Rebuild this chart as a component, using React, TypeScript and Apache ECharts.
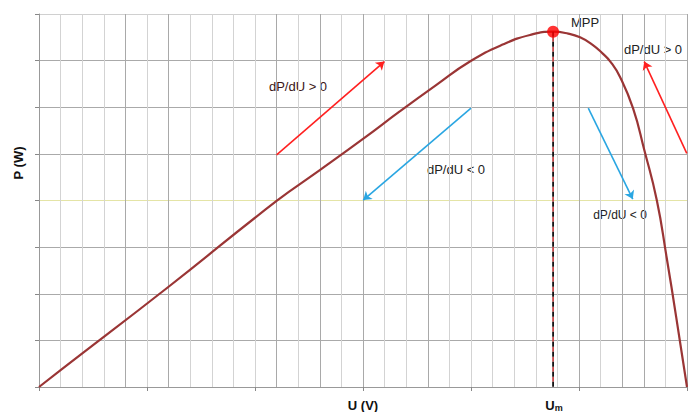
import React, { useEffect, useRef } from "react";
import * as echarts from "echarts";

// P-U curve of a PV panel (x: voltage in grid units 0..30, y: power in grid units 0..8)
const curveU = [0, 1, 6, 11, 13, 15, 16.7, 18.4, 19.95, 21.5, 22.73, 23.8, 24.5, 25.05, 25.6, 26.1, 26.45, 26.9, 27.5, 28.02, 28.6, 29.05, 29.5, 30];
const curveP = [0, 0.36, 2.15, 3.99, 4.65, 5.32, 5.91, 6.48, 6.98, 7.35, 7.55, 7.62, 7.58, 7.5, 7.35, 7.15, 6.98, 6.65, 5.98, 5.09, 4.01, 2.8, 1.5, 0];

const mppU = 23.8;
const mppP = 7.62;

// arrows: [u0, p0, u1, p1]
const redArrows = [
  [11, 4.98, 15.99, 6.98],
  [29.99, 5.01, 28.02, 6.98],
];
const blueArrows = [
  [20, 5.98, 15.01, 4.01],
  [25.43, 5.98, 27.49, 4.03],
];

const darkVLines = [0, 4, 6, 11, 13, 15, 18, 25, 27, 28, 30];

export default function App() {
  const ref = useRef<HTMLDivElement>(null);
  useEffect(() => {
    document.body.style.margin = "0";
    const chart = echarts.init(ref.current!, null, { renderer: "svg" });
    const vColors: string[] = [];
    for (let i = 0; i <= 30; i++) vColors.push(darkVLines.includes(i) ? "#a9a9a9" : "#d3d3d3");
    const hColors = ["#aaaaaa", "#aaaaaa", "#aaaaaa", "#aaaaaa", "#e4e4a6", "#aaaaaa", "#aaaaaa", "#aaaaaa", "#d0d0d0"];
    const font = "'Liberation Sans', Arial, sans-serif";
    const mkLines = (arr: number[][], color: string) =>
      arr.map((a) => ({ coords: [[a[0], a[1]], [a[2], a[3]]], lineStyle: { color } }));

    chart.setOption({
      animation: false,
      grid: { left: 39, top: 14, right: 5, bottom: 25, containLabel: false, outerBoundsMode: "none" },
      xAxis: [
        {
          type: "value", min: 0, max: 30, interval: 1,
          axisLine: { show: true, lineStyle: { color: "#999" } },
          axisTick: { show: false }, axisLabel: { show: false },
          splitLine: { show: true, lineStyle: { color: vColors, width: 1 } },
          name: "U (V)", nameLocation: "middle", nameGap: 12,
          nameTextStyle: { fontFamily: font, fontSize: 13, fontWeight: "bold", color: "#111" },
        },
        {
          type: "value", min: 0, max: 30, interval: 5, position: "bottom",
          axisLine: { show: false },
          axisTick: { show: true, length: 4, lineStyle: { color: "#888" } },
          axisLabel: { show: false }, splitLine: { show: false },
        },
      ],
      yAxis: {
        type: "value", min: 0, max: 8, interval: 1,
        axisLine: { show: true, lineStyle: { color: "#999" } },
        axisTick: { show: true, length: 4, lineStyle: { color: "#888" } },
        axisLabel: { show: false },
        splitLine: { show: true, lineStyle: { color: hColors, width: 1 } },
      },
      series: [
        {
          type: "line", smooth: 0.5, showSymbol: false,
          data: curveU.map((u, i) => [u, curveP[i]]),
          lineStyle: { color: "#9a3535", width: 2.2 }, z: 3,
        },
        {
          type: "line", showSymbol: false, data: [[mppU, mppP], [mppU, 0]],
          lineStyle: { color: "#c84a4a", width: 1.8, type: [5, 5], dashOffset: 5 }, z: 3,
        },
        {
          type: "line", showSymbol: false, data: [[mppU, mppP], [mppU, 0]],
          lineStyle: { color: "#111", width: 1.8, type: [5, 5] }, z: 3,
        },
        {
          type: "lines", coordinateSystem: "cartesian2d",
          symbol: ["none", "arrow"], symbolSize: 8,
          lineStyle: { width: 1.6, opacity: 1 },
          data: [...mkLines(redArrows, "#ff2020"), ...mkLines(blueArrows, "#2aa6e2")],
          z: 4,
        },
        {
          type: "scatter", data: [[mppU, mppP]], symbolSize: 12,
          itemStyle: { color: "#ff0000" }, z: 5,
        },
      ],
      graphic: [
        { type: "text", x: 18, y: 163, rotation: Math.PI / 2, style: { text: "P (W)", fontFamily: font, fontSize: 13, fontWeight: "bold", fill: "#111", align: "center", verticalAlign: "middle" } },
        { type: "text", x: 298, y: 86, style: { text: "dP/dU > 0", fontFamily: font, fontSize: 13, fill: "#3a1515", align: "center", verticalAlign: "middle" } },
        { type: "text", x: 456, y: 169, style: { text: "dP/dU < 0", fontFamily: font, fontSize: 13, fill: "#222", align: "center", verticalAlign: "middle" } },
        { type: "text", x: 585, y: 22, style: { text: "MPP", fontFamily: font, fontSize: 13, fill: "#222", align: "center", verticalAlign: "middle" } },
        { type: "text", x: 653, y: 49, style: { text: "dP/dU > 0", fontFamily: font, fontSize: 13, fill: "#222", align: "center", verticalAlign: "middle" } },
        { type: "text", x: 620, y: 215, style: { text: "dP/dU < 0", fontFamily: font, fontSize: 12, fill: "#222", align: "center", verticalAlign: "middle" } },
        {
          type: "text", x: 554, y: 405,
          style: {
            text: "U{s|m}", fontFamily: font, fontSize: 13, fontWeight: "bold", fill: "#111", align: "center", verticalAlign: "middle",
            rich: { s: { fontSize: 9, fontWeight: "bold", fontFamily: font, fill: "#111", padding: [6, 0, 0, 0] } },
          },
        },
      ],
    });
    return () => chart.dispose();
  }, []);
  return <div ref={ref} style={{ width: 692, height: 412 }} />;
}
